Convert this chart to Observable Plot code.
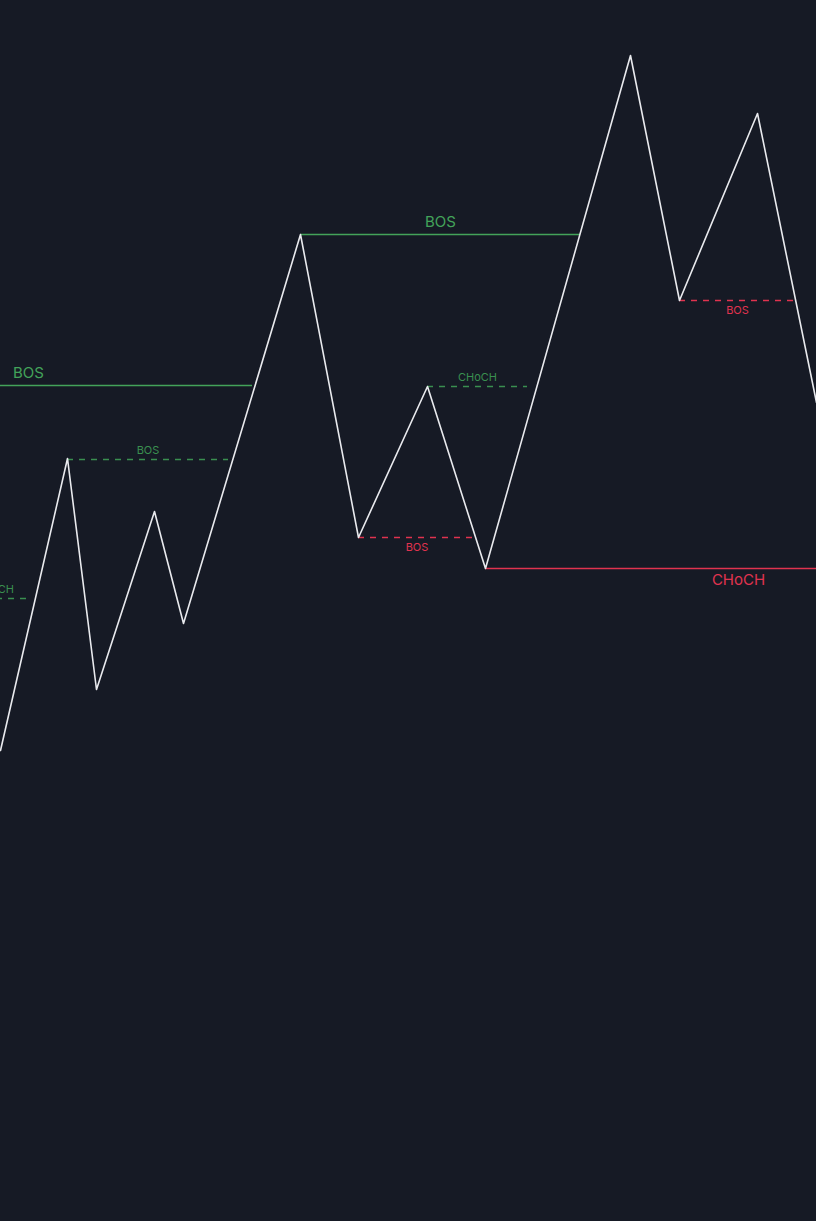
<!DOCTYPE html>
<html>
<head>
<meta charset="utf-8">
<script src="https://cdn.jsdelivr.net/npm/d3@7"></script>
<script src="https://cdn.jsdelivr.net/npm/@observablehq/plot@0.6"></script>
<style>
  html, body { margin: 0; padding: 0; background: #161a25; }
  #chart svg { display: block; }
</style>
</head>
<body>
<div id="chart"></div>
<script>
// Zigzag pivots: bar position and price
const pivotBar   = [0, 67, 96, 154, 183, 300, 358, 427, 485, 630, 679, 757, 816];
const pivotPrice = [471, 763, 532, 710, 598, 987, 684, 835, 653, 1166, 921, 1108, 819];

// Structure levels
const levelStart = [-196, 67, -40, 300, 427, 358, 485, 679];
const levelEnd   = [252, 228, 28, 580, 527, 475, 991, 795];
const levelPrice = [836, 762, 623, 987, 835, 684, 653, 921];
const levelLabel = ["BOS", "BOS", "CHoCH", "BOS", "CHoCH", "BOS", "CHoCH", "BOS"];
const levelBias  = ["bull", "bull", "bull", "bull", "bull", "bear", "bear", "bear"];
const levelScope = ["swing", "internal", "internal", "swing", "internal", "internal", "swing", "internal"];

const W = 816, H = 1221;
const pivots = pivotBar.map((b, i) => ({bar: b, price: pivotPrice[i]}));
const levels = levelStart.map((s, i) => ({
  x1: s, x2: levelEnd[i], price: levelPrice[i], label: levelLabel[i],
  bias: levelBias[i], scope: levelScope[i], mid: (s + levelEnd[i]) / 2
}));

const GREEN = "#43a35a", GREEN_DIM = "#3a8f50", RED = "#e0334f";
const col = d => d.bias === "bull" ? (d.scope === "swing" ? GREEN : GREEN_DIM) : RED;

const sel = (bias, scope) => levels.filter(d => d.bias === bias && d.scope === scope);

const marks = [];
for (const scope of ["swing", "internal"]) {
  for (const bias of ["bull", "bear"]) {
    const data = sel(bias, scope);
    if (!data.length) continue;
    marks.push(Plot.ruleY(data, {
      y: "price", x1: "x1", x2: "x2",
      stroke: col(data[0]),
      strokeWidth: scope === "swing" ? 1.6 : 1.4,
      strokeDasharray: scope === "swing" ? null : "6,6",
      clip: true
    }));
    const up = bias === "bull";
    const dy = scope === "swing" ? (up ? -12.5 : 12) : (up ? -9.5 : 9.5);
    marks.push(Plot.text(data, {
      x: "mid", y: "price", text: "label",
      fill: col(data[0]),
      fontSize: scope === "swing" ? 15 : 11,
      fontFamily: "Inter, 'Noto Sans', sans-serif",
      dy, textAnchor: "middle", lineAnchor: "middle",
      clip: true
    }));
  }
}
marks.push(Plot.line(pivots, {
  x: "bar", y: "price", stroke: "#e9eaee", strokeWidth: 1.6, clip: true
}));

const chart = Plot.plot({
  width: W, height: H,
  marginTop: 0, marginBottom: 0, marginLeft: 0, marginRight: 0,
  x: {domain: [0, 816], axis: null},
  y: {domain: [0, 1221], axis: null},
  style: {background: "#161a25", overflow: "hidden"},
  marks
});
document.getElementById("chart").appendChild(chart);
</script>
</body>
</html>
